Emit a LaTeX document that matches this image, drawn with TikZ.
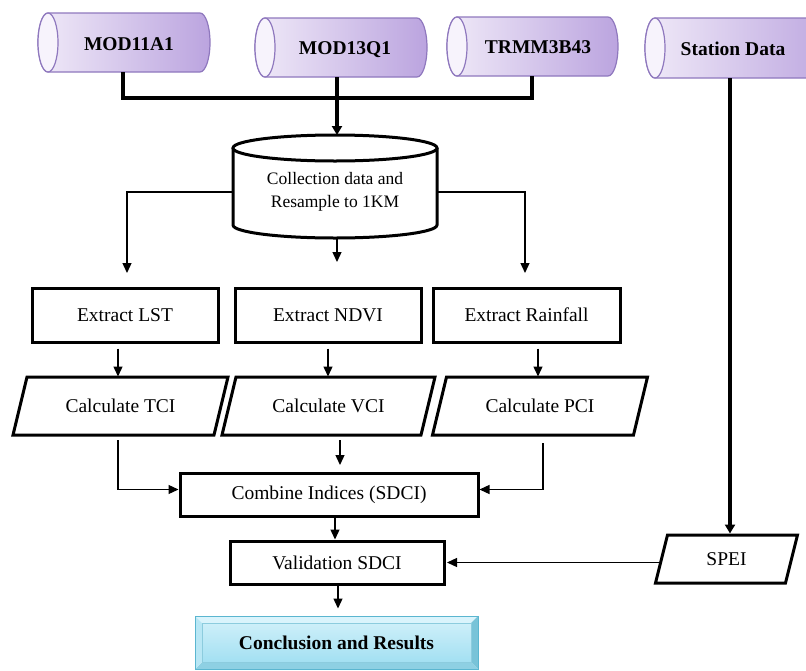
\documentclass[tikz,border=0pt]{standalone}
\usepackage{fontspec}
\setmainfont{Liberation Serif}
\usetikzlibrary{arrows.meta,calc}
\definecolor{cylL}{HTML}{F0EAF8}
\definecolor{cylR}{HTML}{BBA4DF}
\definecolor{cylB}{HTML}{8F78BE}
\definecolor{cylE}{HTML}{F7F3FC}
\definecolor{conTop}{HTML}{CDEFF9}
\definecolor{conBot}{HTML}{A3E0F2}
\definecolor{conEdge}{HTML}{5BB6D0}
\definecolor{bevT}{HTML}{DAF4FC}
\definecolor{bevL}{HTML}{B8E7F5}
\definecolor{bevR}{HTML}{78C3D8}
\definecolor{bevB}{HTML}{8ED0E3}
\newcommand\mycyl[4]{%
  \pgfmathsetmacro\myry{(#4-#3)/2}%
  \pgfmathsetmacro\mycy{-(#3+#4)/2}%
  \shadedraw[left color=cylL, right color=cylR, draw=cylB, line width=1.2pt]
    (#1+10,-#3) -- (#2-10,-#3)
    arc[start angle=90,end angle=-90,x radius=10,y radius=\myry]
    -- (#1+10,-#4)
    arc[start angle=270,end angle=90,x radius=10,y radius=\myry] -- cycle;
  \filldraw[fill=cylE, draw=cylB, line width=1.2pt] (#1+10,\mycy) ellipse[x radius=10, y radius=\myry];
}
% parallelogram round a (rectangular, undrawn) node: #1 name, #2 half slant
\newcommand\drawpara[2]{%
  \draw[line width=3pt, line join=miter]
    ([xshift=-#2]#1.south west) -- ([xshift=-#2]#1.south east)
    -- ([xshift=#2]#1.north east) -- ([xshift=#2]#1.north west) -- cycle;
}
\begin{document}
\begin{tikzpicture}[x=1pt,y=1pt,
  lbl/.style={font=\fontsize{19.5}{23}\selectfont},
  blbl/.style={font=\bfseries\fontsize{19.5}{23}\selectfont},
  box/.style={draw, line width=3pt, lbl, inner sep=0pt},
  para/.style={lbl, inner sep=0pt, outer sep=0pt},
  thinarr/.style={line width=1.3pt, -{Triangle[length=10pt,width=9pt]}},
  thickln/.style={line width=3.5pt},
  thickarr/.style={line width=3.5pt, -{Triangle[length=9pt,width=10pt]}},
]
\useasboundingbox (0,0) rectangle (806,-670);
\clip (0,0) rectangle (806,-670);
\fill[white] (0,0) rectangle (806,-670);

% top data cylinders
\mycyl{38}{210}{13}{72}
\mycyl{255}{427}{18}{77}
\mycyl{447}{618}{17}{76}
\mycyl{645}{840}{18}{78}
\node[blbl] (m11) at (129,-44) {MOD11A1};
\node[blbl] (m13) at (345,-50) {MOD13Q1};
\node[blbl] (trmm) at (538,-47) {TRMM3B43};
\node[blbl] (stat) at (733,-49) {Station Data};
\coordinate (m11b) at (123,-72);
\coordinate (m13b) at (337,-77);
\coordinate (trmmb) at (532,-76);
\coordinate (statb) at (730,-78);
\coordinate (bus) at (0,-98);

% collection cylinder
\draw[line width=3pt, fill=white] (233,-148) -- (233,-225)
  arc[start angle=180, end angle=360, x radius=102, y radius=13] -- (437,-148);
\draw[line width=3pt, fill=white] (335,-148) ellipse[x radius=102, y radius=13];
\node[font=\fontsize{17.5}{23}\selectfont, align=center, inner sep=0pt,
  minimum width=204, minimum height=60] (coll) at (335,-192)
  {Collection data and\\Resample to 1KM};
\coordinate (colltop) at (337,-135);
\coordinate (collb) at (337,-239);
\coordinate (lstin) at (127,-273);
\coordinate (ndviin) at (337,-262);
\coordinate (rainin) at (525,-273);

\draw[thickln] (m11b) |- (bus -| trmmb) -- (trmmb);
\draw[thickarr] (m13b) -- (colltop);

\draw[thinarr] (coll.west) -| (lstin);
\draw[thinarr] (collb) -- (ndviin);
\draw[thinarr] (coll.east) -| (rainin);

% extract boxes
\node[box, minimum width=186, minimum height=54] (lst) at (125,-315) {Extract LST};
\node[box, minimum width=186, minimum height=54] (ndvi) at (328,-315) {Extract NDVI};
\node[box, minimum width=187, minimum height=54] (rain) at (526.5,-315) {Extract Rainfall};

% calculate parallelograms
\node[para, minimum width=201, minimum height=58] (tci) at (120.5,-406) {Calculate TCI};
\node[para, minimum width=199, minimum height=58] (vci) at (328.5,-406) {Calculate VCI};
\node[para, minimum width=201, minimum height=58] (pci) at (540,-406) {Calculate PCI};
\drawpara{tci}{7}
\drawpara{vci}{7}
\drawpara{pci}{7}

\draw[thinarr] ([shift={(-7,-5)}]lst.south) -- ++(0,-28);
\draw[thinarr] ([yshift=-5]ndvi.south) -- ++(0,-28);
\draw[thinarr] ([shift={(11.5,-5)}]rain.south) -- ++(0,-28);

% combine and validation
\node[box, minimum width=298, minimum height=43] (comb) at (329,-494.5) {Combine Indices (SDCI)};
\node[box, minimum width=214, minimum height=43] (val) at (337,-562.5) {Validation SDCI};

\draw[thinarr] ([shift={(-2.5,-34)}]tci.center) |- ([yshift=5]comb.west);
\draw[thinarr] ([shift={(11.5,-34)}]vci.center) -- ++(0,-25);
\draw[thinarr] ([shift={(3,-37)}]pci.center) |- ([yshift=5]comb.east);
\draw[thinarr] ([xshift=6]comb.south) -- ++(0,-22);

% SPEI
\node[para, minimum width=130, minimum height=48] (spei) at (726.5,-559) {SPEI};
\drawpara{spei}{6}
\draw[thickarr] (statb) -- ([yshift=1.5]statb |- spei.north);
\draw[thinarr] (spei.west |- val.east) -- ([xshift=1.5]val.east);

% conclusion (bevelled box)
\fill[bevT] (195,-616) -- (478,-616) -- (471,-623) -- (202,-623) -- cycle;
\fill[bevR] (478,-616) -- (478,-669) -- (471,-662) -- (471,-623) -- cycle;
\fill[bevB] (195,-669) -- (478,-669) -- (471,-662) -- (202,-662) -- cycle;
\fill[bevL] (195,-616) -- (195,-669) -- (202,-662) -- (202,-623) -- cycle;
\shade[top color=conTop, bottom color=conBot] (202,-623) rectangle (471,-662);
\draw[conEdge, line width=0.8pt] (195,-616) rectangle (478,-669);
\draw[conEdge!70, line width=0.5pt] (202,-623) rectangle (471,-662);
\node[blbl, minimum width=283, minimum height=53, inner sep=0pt] (conc) at (336.5,-642.5) {Conclusion and Results};
\draw[thinarr] ([xshift=1]val.south) -- ++(0,-23);
\end{tikzpicture}
\end{document}
